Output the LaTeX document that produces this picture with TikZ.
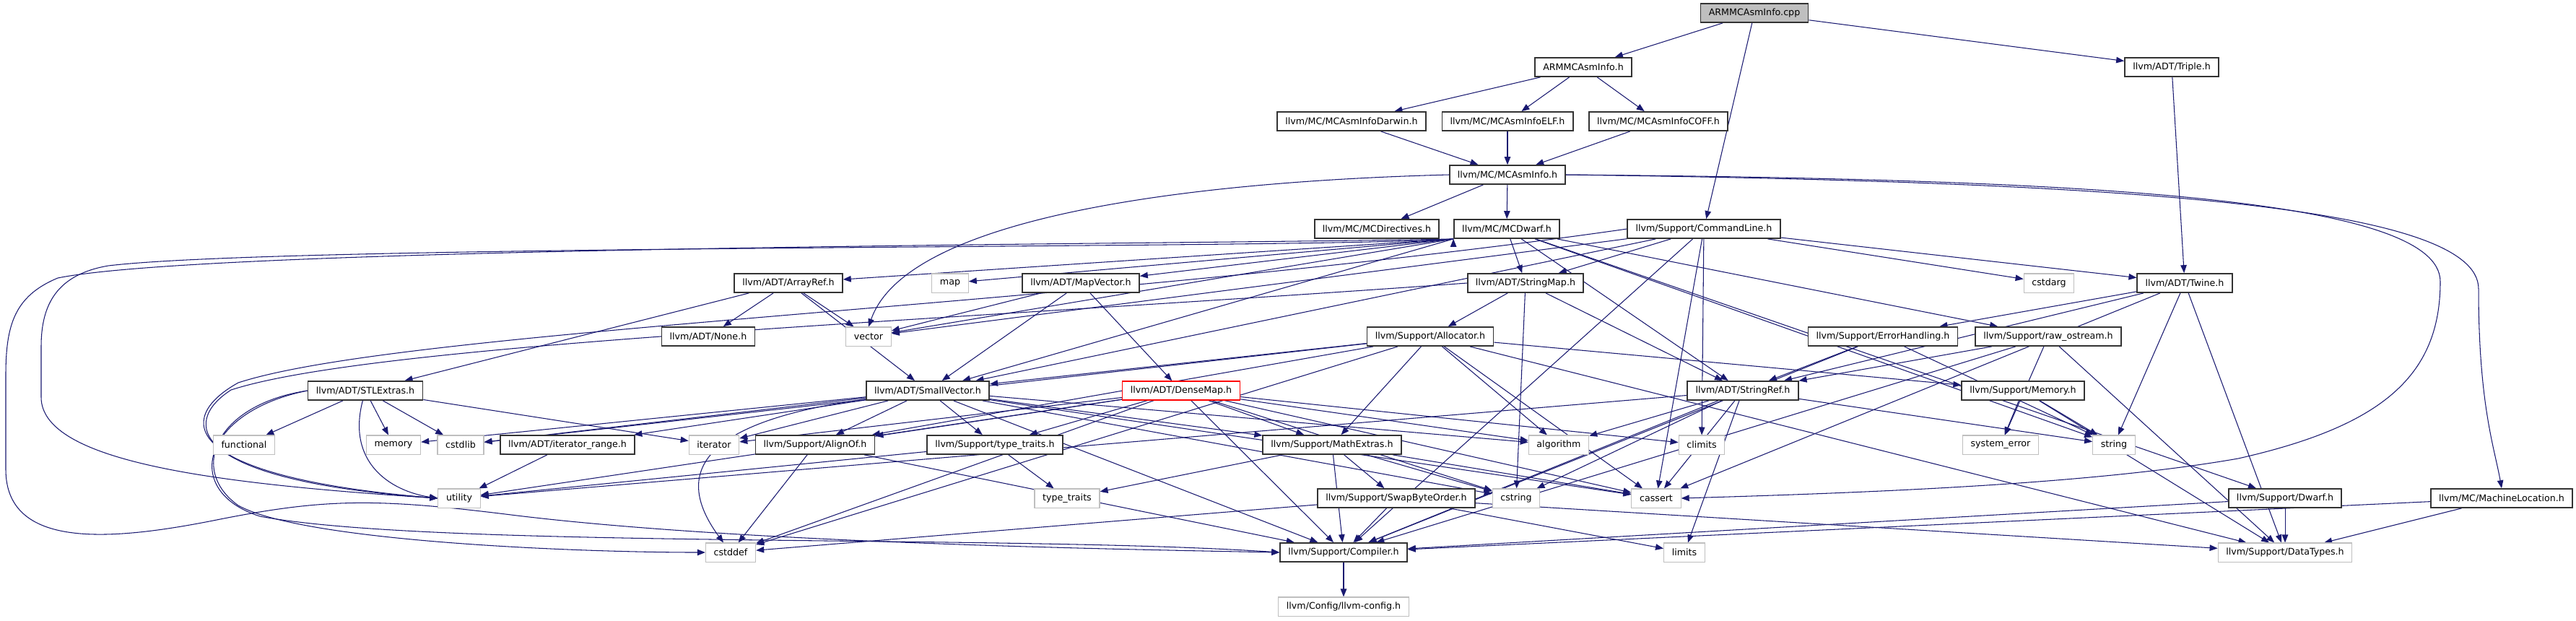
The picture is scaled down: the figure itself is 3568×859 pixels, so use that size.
\documentclass[tikz,border=0pt]{standalone}
\usepackage{fontspec}
\setmainfont{DejaVu Sans}
\usepackage{tikz}
\usetikzlibrary{arrows.meta,backgrounds}
\definecolor{imid}{HTML}{191970}
\definecolor{igrey}{HTML}{BFBFBF}
\tikzset{
  >={Triangle[length=1.1mm, width=0.85mm]},
  ibox/.style={draw=black!80, fill=white, line width=0.5pt,
               font=\fontsize{3.6pt}{4.3pt}\selectfont,
               inner xsep=0.112cm, inner ysep=0pt, minimum height=0.26cm},
  isys/.style={ibox, draw=igrey, line width=0.3pt},
  iroot/.style={ibox, fill=igrey},
  itrunc/.style={ibox, draw=red, line width=0.35pt},
  iedge/.style={->, imid, line width=0.3pt},
}
\begin{document}
\begin{tikzpicture}[x=0.01cm, y=-0.01cm]
  \useasboundingbox (0,0) rectangle (3568,859);

  % headers, row by row
  \node[iroot]  (cpp)      at (2430,18)  {ARMMCAsmInfo.cpp};
  \node[ibox]   (armh)     at (2193,93)  {ARMMCAsmInfo.h};
  \node[ibox]   (triple)   at (3008,93)  {llvm/ADT/Triple.h};
  \node[ibox]   (darwin)   at (1872,168) {llvm/MC/MCAsmInfoDarwin.h};
  \node[ibox]   (elf)      at (2088,168) {llvm/MC/MCAsmInfoELF.h};
  \node[ibox]   (coff)     at (2297,168) {llvm/MC/MCAsmInfoCOFF.h};
  \node[ibox]   (mcai)     at (2088,242) {llvm/MC/MCAsmInfo.h};
  \node[ibox]   (mcdir)    at (1907,317) {llvm/MC/MCDirectives.h};
  \node[ibox]   (mcdwarf)  at (2087,317) {llvm/MC/MCDwarf.h};
  \node[ibox]   (cmdline)  at (2360,317) {llvm/Support/CommandLine.h};
  \node[ibox]   (arrayref) at (1092,392) {llvm/ADT/ArrayRef.h};
  \node[isys]   (map)      at (1316,392) {map};
  \node[ibox]   (mapvec)   at (1497,392) {llvm/ADT/MapVector.h};
  \node[ibox]   (strmap)   at (2113,392) {llvm/ADT/StringMap.h};
  \node[isys]   (cstdarg)  at (2838,392) {cstdarg};
  \node[ibox]   (twine)    at (3026,392) {llvm/ADT/Twine.h};
  \node[ibox]   (none)     at (981,466)  {llvm/ADT/None.h};
  \node[isys]   (vector)   at (1203,466) {vector};
  \node[ibox]   (alloc)    at (1981,466) {llvm/Support/Allocator.h};
  \node[ibox]   (errh)     at (2608,466) {llvm/Support/ErrorHandling.h};
  \node[ibox]   (rawos)    at (2837,466) {llvm/Support/raw\_ostream.h};
  \node[ibox]   (stlx)     at (506,541)  {llvm/ADT/STLExtras.h};
  \node[ibox]   (smallvec) at (1285,541) {llvm/ADT/SmallVector.h};
  \node[itrunc] (densemap) at (1636,541) {llvm/ADT/DenseMap.h};
  \node[ibox]   (strref)   at (2414,541) {llvm/ADT/StringRef.h};
  \node[ibox]   (memh)     at (2802,541) {llvm/Support/Memory.h};
  \node[isys]   (functional) at (338,616) {functional};
  \node[isys]   (memory)   at (545,616)  {memory};
  \node[isys]   (cstdlib)  at (638,616)  {cstdlib};
  \node[ibox]   (itrange)  at (786,616)  {llvm/ADT/iterator\_range.h};
  \node[isys]   (iterator) at (989,616)  {iterator};
  \node[ibox]   (alignof)  at (1129,616) {llvm/Support/AlignOf.h};
  \node[ibox]   (typetr)   at (1378,616) {llvm/Support/type\_traits.h};
  \node[ibox]   (mathx)    at (1845,616) {llvm/Support/MathExtras.h};
  \node[isys]   (algorithm) at (2159,616) {algorithm};
  \node[isys]   (climits)  at (2357,616) {climits};
  \node[isys]   (syserr)   at (2771,616) {system\_error};
  \node[isys]   (string)   at (2928,616) {string};
  \node[isys]   (utility)  at (636,690)  {utility};
  \node[isys]   (typetraits) at (1478,690) {type\_traits};
  \node[ibox]   (swapb)    at (1934,690) {llvm/Support/SwapByteOrder.h};
  \node[isys]   (cstring)  at (2100,690) {cstring};
  \node[isys]   (cassert)  at (2294,690) {cassert};
  \node[ibox]   (dwarf)    at (3165,690) {llvm/Support/Dwarf.h};
  \node[ibox]   (machloc)  at (3465,690) {llvm/MC/MachineLocation.h};
  \node[isys]   (cstddef)  at (1012,765) {cstddef};
  \node[ibox]   (compiler) at (1861,765) {llvm/Support/Compiler.h};
  \node[isys]   (limits)   at (2333,765) {limits};
  \node[isys]   (datatypes) at (3165,765) {llvm/Support/DataTypes.h};
  \node[isys]   (llvmcfg)  at (1861,840) {llvm/Config/llvm-config.h};

  \begin{scope}[on background layer]
    % top of the graph
    \draw[iedge] (cpp) edge (armh) edge (cmdline) edge (triple);
    \draw[iedge] (armh) edge (darwin) edge (elf) edge (coff);
    \draw[iedge] (darwin) edge (mcai);
    \draw[iedge] (elf) edge (mcai);
    \draw[iedge] (coff) edge (mcai);
    \draw[iedge] (triple) edge (twine);
    \draw[iedge] (mcai) edge (mcdir) edge (mcdwarf);
    \draw[iedge] (mcai.west) .. controls (1700,250) and (1260,290) .. (vector.north);
    \draw[iedge] (mcai.east) .. controls (2900,248) and (3380,275) .. (3380,390)
                 .. controls (3380,520) and (3300,590) .. (3100,635)
                 .. controls (2900,670) and (2600,682) .. (cassert.east);
    \draw[iedge] (mcai.east) .. controls (2950,252) and (3433,285) .. (3433,400)
                 .. controls (3433,560) and (3455,620) .. (machloc.north);

    % MCDwarf.h and CommandLine.h
    \draw[iedge] (mcdwarf.south west) edge (arrayref) edge (map) edge (mapvec)
                 edge (vector) edge (smallvec);
    \draw[iedge] (mcdwarf) edge (strmap) edge (strref) edge (rawos)
                 edge (string) edge (dwarf);
    \draw[iedge] (mcdwarf.south west) .. controls (1800,345) and (400,338) .. (150,368)
                 .. controls (80,380) and (57,420) .. (57,480) -- (57,550)
                 .. controls (57,640) and (300,670) .. (utility.west);
    \draw[iedge] (mcdwarf.south west) .. controls (1700,338) and (300,340) .. (80,385)
                 .. controls (20,410) and (8,450) .. (8,520) -- (8,650)
                 .. controls (8,760) and (150,750) .. (300,720)
                 .. controls (450,690) and (520,690) .. (700,712)
                 .. controls (1000,750) and (1500,760) .. (compiler.west);
    \draw[iedge] (cmdline) edge (vector) edge (smallvec) edge (strmap) edge (twine)
                 edge (cstdarg) edge (climits) edge (cassert) edge (compiler);
    \draw[iedge] (cmdline.west) .. controls (1500,425) and (560,455) .. (330,530)
                 .. controls (240,580) and (250,660) .. (utility.west);

    % ADT headers
    \draw[iedge] (arrayref) edge (none) edge (vector) edge (smallvec) edge (stlx);
    \draw[iedge] (mapvec) edge (vector) edge (smallvec) edge (densemap);
    \draw[iedge] (strmap) edge (alloc) edge (cstring) edge (strref);
    \draw[iedge] (strmap.west) .. controls (1300,445) and (520,475) .. (320,540)
                 .. controls (250,585) and (260,665) .. (utility.west);
    \draw[iedge] (twine) edge (strref) edge (errh) edge (string) edge (cassert)
                 edge (datatypes);
    \draw[iedge] (stlx) edge (functional) edge (memory) edge (cstdlib) edge (iterator);
    \draw[iedge] (stlx) .. controls (480,640) and (540,680) .. (utility.west);
    \draw[iedge] (stlx.west) .. controls (300,560) and (260,650) .. (330,700)
                 .. controls (420,750) and (800,765) .. (cstddef.west);
    \draw[iedge] (stlx.west) .. controls (280,570) and (250,680) .. (360,715)
                 .. controls (600,760) and (1400,740) .. (compiler.west);
    \draw[iedge] (smallvec) edge (itrange) edge (iterator) edge (alignof) edge (typetr)
                 edge (mathx) edge (algorithm) edge (cassert) edge (cstring)
                 edge (cstdlib) edge (memory) edge (compiler);
    \draw[iedge] (smallvec) .. controls (1000,580) and (920,640) .. (cstddef);
    \draw[iedge] (densemap) edge (alignof) edge (typetr) edge (mathx) edge (compiler)
                 edge (algorithm) edge (cassert) edge (climits) edge (cstddef)
                 edge (cstring) edge (iterator) edge (utility);
    \draw[iedge] (strref) edge (algorithm) edge (cassert) edge (cstring) edge (limits)
                 edge (string) edge (utility) edge (compiler);
    \draw[iedge] (itrange) edge (utility);

    % Support headers
    \draw[iedge] (alloc) edge (smallvec) edge (alignof) edge (mathx) edge (memh)
                 edge (datatypes) edge (algorithm) edge (cassert) edge (cstddef)
                 edge (cstdlib);
    \draw[iedge] (errh) edge (strref) edge (compiler) edge (string);
    \draw[iedge] (rawos) edge (strref) edge (compiler) edge (datatypes) edge (syserr);
    \draw[iedge] (memh) edge (syserr) edge (string) edge (datatypes);
    \draw[iedge] (alignof) edge (compiler) edge (cstddef);
    \draw[iedge] (typetr) edge (utility) edge (typetraits);
    \draw[iedge] (mathx) edge (swapb) edge (compiler) edge (typetraits) edge (cassert)
                 edge (cstring);
    \draw[iedge] (swapb) edge (compiler) edge (cstddef) edge (limits) edge (datatypes);
    \draw[iedge] (dwarf) edge (datatypes) edge (compiler);
    \draw[iedge] (machloc) edge (datatypes) edge (compiler);
    \draw[iedge] (compiler) edge (llvmcfg);
  \end{scope}

\end{tikzpicture}
\end{document}
